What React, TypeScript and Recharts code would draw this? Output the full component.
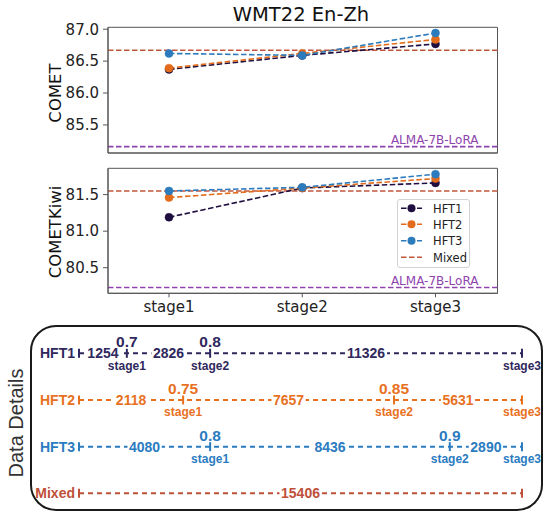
import React from 'react';
import {
  LineChart,
  ComposedChart,
  Line,
  Scatter,
  XAxis,
  YAxis,
  CartesianGrid,
  ReferenceLine,
  Legend,
} from 'recharts';

// ---- metric panels ----
const stages = ['stage1', 'stage2', 'stage3'];
const cometHft1 = [86.37, 86.59, 86.77];
const cometHft2 = [86.39, 86.62, 86.84];
const cometHft3 = [86.62, 86.59, 86.94];
const cometMixed = 86.67;
const cometAlma = 85.16;
const cometTicks = [85.5, 86.0, 86.5, 87.0];

const kiwiHft1 = [81.19, 81.59, 81.66];
const kiwiHft2 = [81.46, 81.59, 81.72];
const kiwiHft3 = [81.55, 81.6, 81.78];
const kiwiMixed = 81.55;
const kiwiAlma = 80.23;
const kiwiTicks = [80.5, 81.0, 81.5];

// ---- data details ----
const detailRows = ['HFT1', 'HFT2', 'HFT3', 'Mixed'];
const hft1Counts = [1254, 2826, 11326];
const hft2Counts = [2118, 7657, 5631];
const hft3Counts = [4080, 8436, 2890];
const mixedCounts = [15406];
const hft1Thresholds = ['0.7', '0.8'];
const hft2Thresholds = ['0.75', '0.85'];
const hft3Thresholds = ['0.8', '0.9'];
// where each stage ends along the (schematic) data axis, 0-100
const hft1StageEnds = [10.8, 29.6, 100];
const hft2StageEnds = [23.5, 71.1, 100];
const hft3StageEnds = [29.6, 83.7, 100];
const mixedStageEnds = [100];

const COLORS: Record<string, string> = {
  HFT1: '#1f0f40',
  HFT2: '#e26c1c',
  HFT3: '#2c7bbd',
  Mixed: '#c2573e',
  ALMA: '#8e44ad',
};
const DETAIL_COLORS: Record<string, string> = {
  HFT1: '#2f285d',
  HFT2: '#e8711f',
  HFT3: '#2b7bc0',
  Mixed: '#c0503a',
};
const SPINE = '#555';
const MPL_FONT = 'DejaVu Sans';
const ARIAL = 'Liberation Sans, Arial, sans-serif';

const cometRows = stages.map((s, i) => ({ stage: s, HFT1: cometHft1[i], HFT2: cometHft2[i], HFT3: cometHft3[i] }));
const kiwiRows = stages.map((s, i) => ({ stage: s, HFT1: kiwiHft1[i], HFT2: kiwiHft2[i], HFT3: kiwiHft3[i] }));

const almaLabel = (props: any) => {
  const vb = props.viewBox;
  return (
    <text x={vb.x + vb.width - 19} y={vb.y - 2.5} textAnchor="end" fontSize={12} fill={COLORS.ALMA} fontFamily={MPL_FONT}>
      ALMA-7B-LoRA
    </text>
  );
};

// frame the plot area on all four sides, like matplotlib spines
const frameRows = ({ offset }: any) => [offset.top, offset.top + offset.height];
const frameCols = ({ offset }: any) => [offset.left, offset.left + offset.width];

const LegendBox = () => {
  const items = ['HFT1', 'HFT2', 'HFT3', 'Mixed'];
  const rowY = [8.3, 24.3, 40.7, 57.3];
  return (
    <div style={{ width: 73, height: 69, border: '1px solid #d2d2d2', borderRadius: 3, background: '#fff', boxSizing: 'border-box' }}>
      <svg width={71} height={67} style={{ display: 'block' }}>
        {items.map((name, i) => (
          <g key={name}>
            <line x1={3} x2={24} y1={rowY[i]} y2={rowY[i]} stroke={COLORS[name]} strokeWidth={1.6} strokeDasharray="5.5 2.5" />
            {name !== 'Mixed' && <circle cx={13.5} cy={rowY[i]} r={4} fill={COLORS[name]} />}
            <text x={35} y={rowY[i] + 4.2} fontSize={11.5} fill="#222" fontFamily={MPL_FONT}>{name}</text>
          </g>
        ))}
      </svg>
    </div>
  );
};

function MetricPanel(props: {
  rows: any[];
  domain: [number, number];
  ticks: number[];
  mixed: number;
  alma: number;
  height: number;
  top: number;
  marginTop: number;
  xAxisHeight: number;
  showStageLabels: boolean;
  showLegend: boolean;
}) {
  const { rows, domain, ticks, mixed, alma, height, top, marginTop, xAxisHeight, showStageLabels, showLegend } = props;
  return (
    <div style={{ position: 'absolute', left: 0, top }}>
      <LineChart width={545} height={height} data={rows} margin={{ top: marginTop, right: 47.5, bottom: 0, left: 48 }}>
        <CartesianGrid
          stroke={SPINE}
          strokeWidth={1}
          fill="none"
          horizontalCoordinatesGenerator={frameRows}
          verticalCoordinatesGenerator={frameCols}
        />
        <XAxis
          dataKey="stage"
          height={xAxisHeight}
          padding={{ left: 61, right: 62 }}
          axisLine={{ stroke: SPINE }}
          tickLine={{ stroke: SPINE }}
          tickSize={4}
          tickMargin={4}
          tick={showStageLabels ? { fontSize: 15, fill: '#222', fontFamily: MPL_FONT } : false}
        />
        <YAxis
          width={60}
          domain={domain}
          ticks={ticks}
          type="number"
          allowDataOverflow
          tickFormatter={(v: number) => v.toFixed(1)}
          axisLine={{ stroke: SPINE }}
          tickLine={{ stroke: SPINE }}
          tickSize={5}
          tickMargin={4}
          tick={{ fontSize: 15, fill: '#222', fontFamily: MPL_FONT }}
        />
        <ReferenceLine y={mixed} stroke={COLORS.Mixed} strokeWidth={1.6} strokeDasharray="5.5 2.5" />
        <ReferenceLine y={alma} stroke={COLORS.ALMA} strokeWidth={1.6} strokeDasharray="5.5 2.5" label={almaLabel} />
        {['HFT1', 'HFT2', 'HFT3'].map((name) => (
          <Line
            key={name}
            type="linear"
            dataKey={name}
            stroke={COLORS[name]}
            strokeWidth={1.6}
            strokeDasharray="5.5 2.5"
            dot={{ r: 4, fill: COLORS[name], stroke: COLORS[name], strokeWidth: 0.5, strokeDasharray: '' }}
            isAnimationActive={false}
          />
        ))}
        {showLegend && (
          <Legend
            layout="vertical"
            align="center"
            verticalAlign="middle"
            content={() => <LegendBox />}
            wrapperStyle={{ left: 397.3, top: 38.7, width: 73, height: 69 }}
          />
        )}
      </LineChart>
    </div>
  );
}

// ---- build detail marks ----
function buildRow(name: string, rowIndex: number, counts: number[], thresholds: string[], ends: number[]) {
  const color = DETAIL_COLORS[name];
  const y = rowIndex + 1;
  const marks: any[] = [{ x: 0, y, kind: 'tick', color }];
  let prev = 0;
  counts.forEach((c, i) => {
    const end = ends[i];
    marks.push({ x: (prev + end) / 2, y, kind: 'count', text: String(c), color });
    marks.push({
      x: end,
      y,
      kind: 'tick',
      color,
      thr: thresholds[i],
      stage: name !== 'Mixed' ? stages[i] : undefined,
    });
    prev = end;
  });
  return marks;
}

const detailMarks = [
  ...buildRow('HFT1', 0, hft1Counts, hft1Thresholds, hft1StageEnds),
  ...buildRow('HFT2', 1, hft2Counts, hft2Thresholds, hft2StageEnds),
  ...buildRow('HFT3', 2, hft3Counts, hft3Thresholds, hft3StageEnds),
  ...buildRow('Mixed', 3, mixedCounts, [], mixedStageEnds),
];

const DetailMark = (props: any) => {
  const { cx, cy, payload } = props;
  const c = payload.color;
  if (payload.kind === 'count') {
    const w = payload.text.length * 7.8 + 3;
    return (
      <g>
        <rect x={cx - w / 2} y={cy - 6} width={w} height={12} fill="#fff" />
        <text x={cx} y={cy + 5} textAnchor="middle" fontSize={14} fontWeight={700} fill={c} fontFamily={ARIAL}>
          {payload.text}
        </text>
      </g>
    );
  }
  return (
    <g>
      <line x1={cx} x2={cx} y1={cy - 4.5} y2={cy + 4.5} stroke={c} strokeWidth={2} />
      {payload.thr && (
        <text x={cx} y={cy - 6} textAnchor="middle" fontSize={15.5} fontWeight={700} fill={c} fontFamily={ARIAL}>
          {payload.thr}
        </text>
      )}
      {payload.stage && (
        <text x={cx} y={cy + 16.5} textAnchor="middle" fontSize={12} fontWeight={700} fill={c} fontFamily={ARIAL}>
          {payload.stage}
        </text>
      )}
    </g>
  );
};

const RowLabel = (props: any) => {
  const { x, y, payload } = props;
  const name = detailRows[payload.value - 1];
  return (
    <text x={x} y={y + 5} textAnchor="end" fontSize={14} fontWeight={700} fill={DETAIL_COLORS[name]} fontFamily={ARIAL}>
      {name}
    </text>
  );
};

function DetailsPanel() {
  return (
    <div style={{ position: 'absolute', left: 0, top: 320 }}>
      <ComposedChart width={545} height={193} margin={{ top: 33.3, right: 23, bottom: 19.7, left: 0 }}>
        <XAxis type="number" dataKey="x" domain={[0, 100]} hide />
        <YAxis
          type="number"
          dataKey="y"
          domain={[1, 4]}
          ticks={[1, 2, 3, 4]}
          reversed
          width={79}
          axisLine={false}
          tickLine={false}
          tickSize={0}
          tickMargin={4}
          tick={<RowLabel />}
        />
        {detailRows.map((name, i) => (
          <Line
            key={name}
            data={[
              { x: 0, y: i + 1 },
              { x: 100, y: i + 1 },
            ]}
            dataKey="y"
            type="linear"
            stroke={DETAIL_COLORS[name]}
            strokeWidth={2}
            strokeDasharray="5 4"
            dot={false}
            isAnimationActive={false}
          />
        ))}
        <Scatter data={detailMarks} shape={<DetailMark />} isAnimationActive={false} />
      </ComposedChart>
    </div>
  );
}

export default function App() {
  return (
    <div style={{ position: 'absolute', left: 0, top: 0, width: 545, height: 513, background: '#fff', overflow: 'hidden' }}>
      <div
        style={{
          position: 'absolute',
          left: 301,
          top: 14,
          transform: 'translate(-50%, -50%)',
          fontFamily: MPL_FONT,
          fontSize: 19.5,
          color: '#111',
          whiteSpace: 'nowrap',
        }}
      >
        WMT22 En-Zh
      </div>
      <MetricPanel
        rows={cometRows}
        domain={[85.06, 87.03]}
        ticks={cometTicks}
        mixed={cometMixed}
        alma={cometAlma}
        height={165}
        top={0}
        marginTop={27.3}
        xAxisHeight={12}
        showStageLabels={false}
        showLegend={false}
      />
      <MetricPanel
        rows={kiwiRows}
        domain={[80.15, 81.86]}
        ticks={kiwiTicks}
        mixed={kiwiMixed}
        alma={kiwiAlma}
        height={163}
        top={160}
        marginTop={8.3}
        xAxisHeight={29.7}
        showStageLabels={true}
        showLegend={true}
      />
      {['COMET', 'COMETKiwi'].map((label, i) => (
        <div
          key={label}
          style={{
            position: 'absolute',
            left: 55,
            top: i === 0 ? 92.5 : 231.5,
            transform: 'translate(-50%, -50%) rotate(-90deg)',
            fontFamily: MPL_FONT,
            fontSize: 16.5,
            color: '#111',
            whiteSpace: 'nowrap',
          }}
        >
          {label}
        </div>
      ))}
      <div
        style={{
          position: 'absolute',
          left: 30,
          top: 325,
          width: 513,
          height: 186,
          border: '2px solid #1a1a1a',
          borderRadius: 26,
          boxSizing: 'border-box',
        }}
      />
      <div
        style={{
          position: 'absolute',
          left: 16,
          top: 423,
          transform: 'translate(-50%, -50%) rotate(-90deg)',
          fontFamily: ARIAL,
          fontSize: 20,
          color: '#333',
          whiteSpace: 'nowrap',
        }}
      >
        Data Details
      </div>
      <DetailsPanel />
    </div>
  );
}
